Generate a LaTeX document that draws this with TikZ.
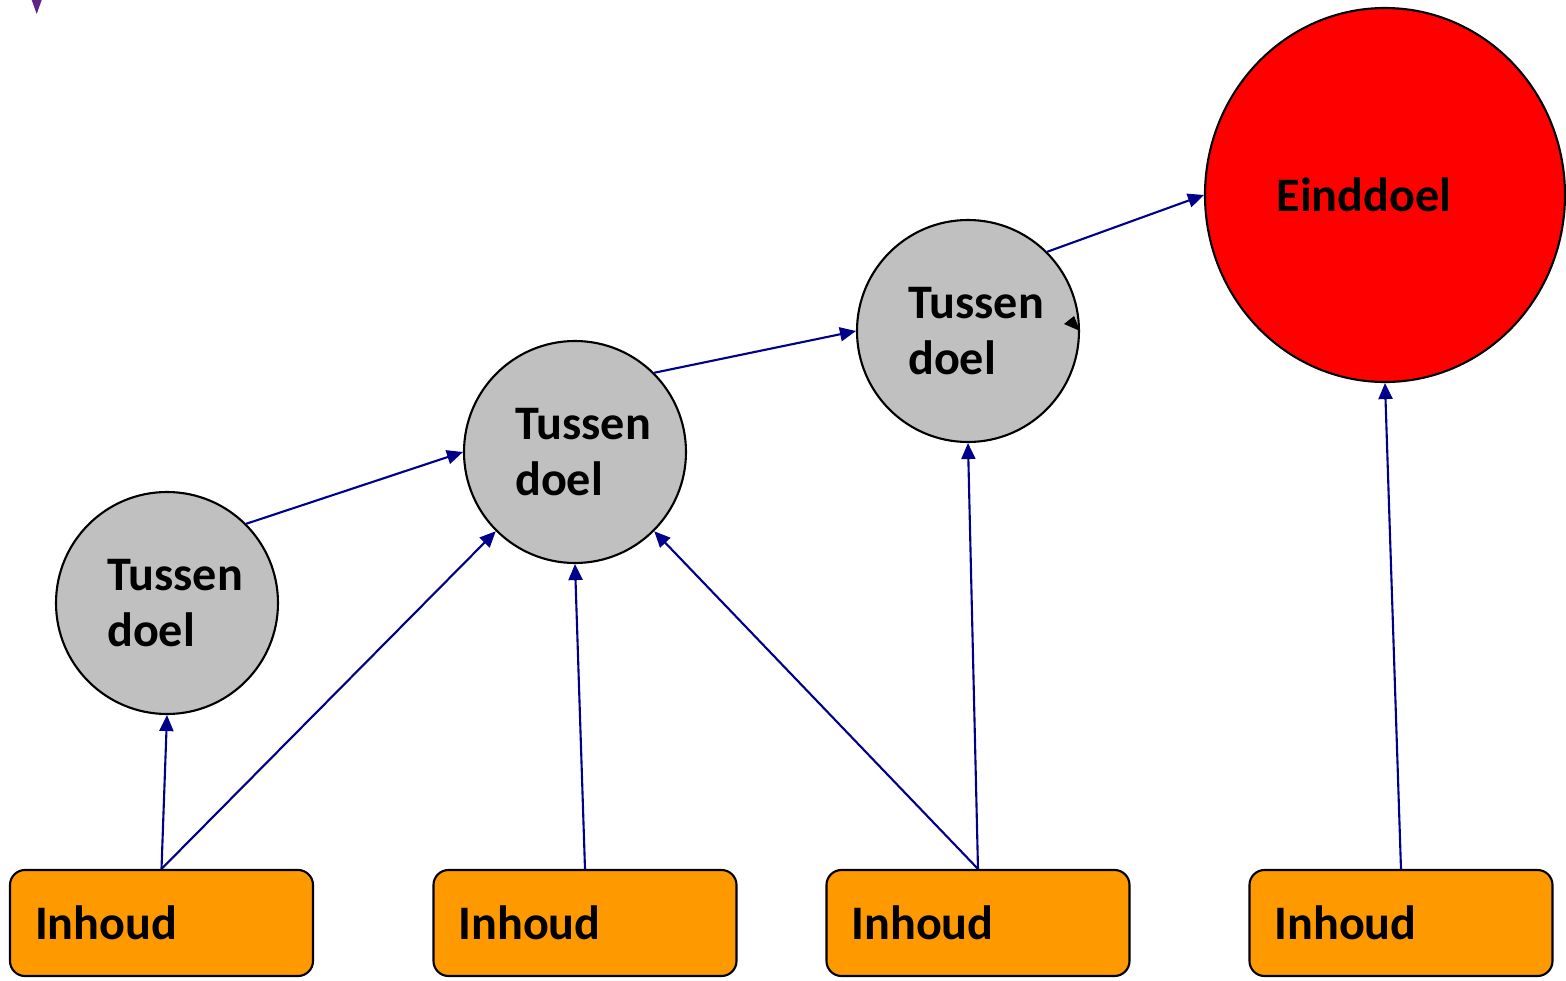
\documentclass[tikz,border=0pt]{standalone}
\usepackage{fontspec}
\setmainfont{Carlito}
\usetikzlibrary{shapes.geometric,arrows.meta}
\definecolor{goalgray}{RGB}{192,192,192}
\definecolor{contentorange}{RGB}{255,153,0}
\definecolor{linkblue}{RGB}{0,0,139}
\definecolor{markpurple}{RGB}{96,36,132}

\begin{document}
\begin{tikzpicture}[goalnode/.style={circle, draw=black, fill=goalgray, line width=0.6pt, minimum size=2.22cm, inner sep=0pt},
  endnode/.style={ellipse, draw=black, fill=red, line width=0.6pt, minimum width=3.6cm, minimum height=3.74cm, inner sep=0pt},
  contentnode/.style={rectangle, rounded corners=0.15cm, draw=black, fill=contentorange, line width=0.6pt, minimum height=1.06cm, text width=2.53cm, inner xsep=0.25cm, align=left, font=\fontsize{13.7}{16}\selectfont\bfseries},
  goaltext/.style={align=left, xshift=0.08cm, font=\fontsize{13.7}{16}\selectfont\bfseries},
  link/.style={-{Triangle[length=0.16cm,width=0.14cm]}, draw=linkblue, line width=0.6pt}]
\useasboundingbox (0,0) rectangle (15.66,9.80);
\node[goalnode, label={[goaltext]center:{Tussen\\doel}}] (t1) at (1.67, 3.77) {};
\node[goalnode, label={[goaltext]center:{Tussen\\doel}}] (t2) at (5.75, 5.28) {};
\node[goalnode, label={[goaltext]center:{Tussen\\doel}}] (t3) at (9.68, 6.49) {};
\node[endnode, label={[goaltext, xshift=-0.29cm]center:Einddoel}] (end) at (13.85, 7.85) {};
\node[contentnode] (in1) at (1.615, 0.57) {Inhoud};
\node[contentnode] (in2) at (5.85, 0.57) {Inhoud};
\node[contentnode] (in3) at (9.78, 0.57) {Inhoud};
\node[contentnode] (in4) at (14.01, 0.57) {Inhoud};
\draw[link] (in1.north) -- (t1.south);
\draw[link] (in1.north) -- (t2.225);
\draw[link] (in2.north) -- (t2.south);
\draw[link] (in3.north) -- (t2.315);
\draw[link] (in3.north) -- (t3.south);
\draw[link] (in4.north) -- (end.south);
\draw[link] (t1.45) -- (t2.west);
\draw[link] (t2.45) -- (t3.west);
\draw[link] (t3.45) -- (end.west);
% loose marks
\fill (t3.east) -- +(-0.16,0.07) -- +(-0.06,0.15) -- cycle;
\fill[markpurple] (0.317,9.80) -- (0.417,9.80) -- (0.367,9.66) -- cycle;
\end{tikzpicture}
\end{document}
